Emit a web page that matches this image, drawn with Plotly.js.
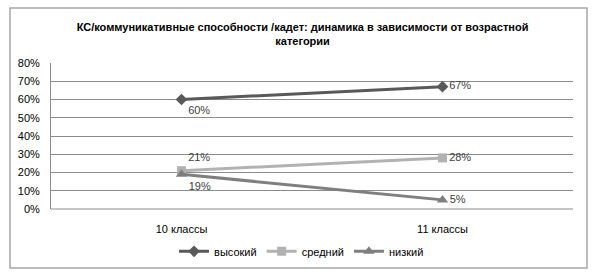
<!DOCTYPE html>
<html>
<head>
<meta charset="utf-8">
<script src="https://cdn.plot.ly/plotly-3.0.1.min.js"></script>
<style>html,body{margin:0;padding:0;background:#fff;}#chart{width:595px;height:279px;}</style>
</head>
<body>
<div id="chart"></div>
<script>
const categories = ["10 классы", "11 классы"];
const seriesNames = ["высокий", "средний", "низкий"];
const high = [0.60, 0.67];
const mid = [0.21, 0.28];
const low = [0.19, 0.05];
const titleText = "КС/коммуникативные способности /кадет: динамика в зависимости от возрастной<br>категории";

const fontFam = "Liberation Sans, Arial, sans-serif";
function pct(arr){ return arr.map(v => Math.round(v*100) + "%"); }

const traces = [
  {x: categories, y: high, name: seriesNames[0], mode: "lines+markers+text",
   line: {color: "#595959", width: 3}, marker: {symbol: "diamond", size: 9, color: "#595959"},
   text: pct(high), textposition: ["bottom right", "middle right"],
   textfont: {size: 11, color: "#404040", family: fontFam}},
  {x: categories, y: mid, name: seriesNames[1], mode: "lines+markers+text",
   line: {color: "#b2b2b2", width: 3}, marker: {symbol: "square", size: 9, color: "#b2b2b2"},
   text: pct(mid), textposition: ["top right", "middle right"],
   textfont: {size: 11, color: "#404040", family: fontFam}},
  {x: categories, y: low, name: seriesNames[2], mode: "lines+markers+text",
   line: {color: "#7f7f7f", width: 3}, marker: {symbol: "triangle-up", size: 10, color: "#7f7f7f"},
   text: pct(low), textposition: ["bottom right", "middle right"],
   textfont: {size: 11, color: "#404040", family: fontFam}}
];

const layout = {
  width: 595, height: 279,
  margin: {l: 51, r: 22, t: 63, b: 70},
  paper_bgcolor: "#fff", plot_bgcolor: "#fff",
  font: {family: fontFam, size: 11, color: "#000"},
  showlegend: true,
  title: {text: "<b>" + titleText + "</b>", font: {size: 11, color: "#000", family: fontFam},
          x: 0.482, xref: "paper", xanchor: "center", y: 0.89, yref: "container", yanchor: "top"},
  xaxis: {type: "category", range: [-0.5, 1.5], showgrid: false, zeroline: false,
          showline: false, ticks: "", ticklabelstandoff: 12, tickfont: {size: 11, color: "#000"},
          fixedrange: true},
  yaxis: {range: [0, 0.8], dtick: 0.1, tickformat: ".0%", showgrid: true, gridcolor: "#8c8c8c",
          gridwidth: 1, zeroline: false, showline: true, linecolor: "#8c8c8c", linewidth: 1,
          ticks: "", ticklabelstandoff: 8, tickfont: {size: 11, color: "#000"}, fixedrange: true},
  legend: {orientation: "h", x: 0.48, xanchor: "center", y: -0.29, yanchor: "middle",
           font: {size: 11, color: "#000"}, itemwidth: 30, tracegroupgap: 0},
  shapes: [
    {type: "line", xref: "paper", yref: "paper", x0: 0, x1: 1, y0: 0, y1: 0,
     line: {color: "#8c8c8c", width: 1}},
    {type: "rect", xref: "paper", yref: "paper", x0: -0.0785, x1: 1.0268, y0: -0.404, y1: 1.377,
     line: {color: "#a6a6a6", width: 1.5}, layer: "below"}
  ]
};

Plotly.newPlot("chart", traces, layout, {displayModeBar: false, staticPlot: true});
</script>
</body>
</html>
